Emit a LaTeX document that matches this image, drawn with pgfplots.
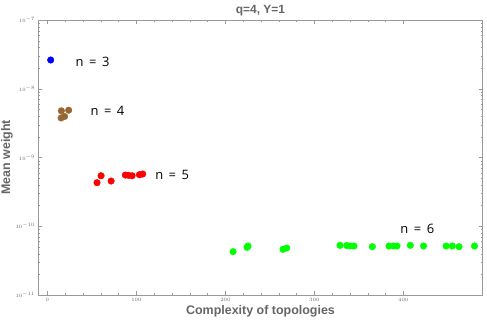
\documentclass[border=0pt]{standalone}
\usepackage{pgfplots}
\pgfplotsset{compat=1.18}
\usepackage{fontspec}
\setmainfont{Liberation Sans}
\newfontfamily\lblfont{Open Sans}
\definecolor{axgray}{HTML}{999999}
\definecolor{txtgray}{HTML}{666666}
\definecolor{mbrown}{rgb}{0.6,0.4,0.2}
\begin{document}
\begin{tikzpicture}
\begin{axis}[
  scale only axis,
  width=444bp, height=275bp,
  anchor=south west, at={(0,0)},
  xmin=-10, xmax=489,
  ymode=log, ymin=1e-11, ymax=1e-7,
  axis line style={axgray},
  tick style={axgray},
  major tick length=4bp, minor tick length=2bp,
  tick align=inside,
  xtick={0,100,200,300,400},
  minor x tick num=4,
  ytick={1e-11,1e-10,1e-9,1e-8,1e-7},
  tick label style={font=\fontsize{5.5}{6.5}\selectfont, text=txtgray},
  title={\bfseries q=4, Y=1},
  title style={font=\fontsize{12}{14}\selectfont, text=txtgray, yshift=-5bp},
  xlabel={\bfseries Complexity of topologies},
  ylabel={\bfseries Mean weight},
  label style={font=\fontsize{12.5}{14}\selectfont, text=txtgray},
  xlabel style={yshift=3bp},
  ylabel style={yshift=-4bp},
  clip=false,
]
\addplot[only marks, mark=*, mark size=3.3bp, color=blue] coordinates {(3.7,2.62e-8)};
\addplot[only marks, mark=*, mark size=3.3bp, color=mbrown] coordinates {
(15.7,4.77e-9) (23.9,4.87e-9) (15.4,3.76e-9) (19.3,3.95e-9)};
\addplot[only marks, mark=*, mark size=3.3bp, color=red] coordinates {
(55.8,4.30e-10) (60.3,5.43e-10) (71.6,4.55e-10) (87.6,5.56e-10)
(91.3,5.50e-10) (95.2,5.43e-10) (103.4,5.62e-10) (107.1,5.75e-10)};
\addplot[only marks, mark=*, mark size=3.3bp, color=green] coordinates {
(208.7,4.27e-11) (224.4,4.94e-11) (225.5,5.16e-11) (264.8,4.62e-11)
(268.9,4.83e-11) (328.9,5.28e-11) (336.5,5.25e-11) (340.4,5.16e-11)
(344.6,5.16e-11) (365.2,5.05e-11) (383.9,5.16e-11) (388.8,5.16e-11)
(392.9,5.16e-11) (407.9,5.28e-11) (422.7,5.16e-11) (448.1,5.16e-11)
(455.1,5.16e-11) (462.6,5.05e-11) (480.0,5.16e-11)};
\node[anchor=west, inner sep=0pt, font=\lblfont\fontsize{13}{15}\selectfont] at (axis cs:31.5,2.45e-8) {n\,\ =\ \,3};
\node[anchor=west, inner sep=0pt, font=\lblfont\fontsize{13}{15}\selectfont] at (axis cs:48.3,4.75e-9) {n\,\ =\ \,4};
\node[anchor=west, inner sep=0pt, font=\lblfont\fontsize{13}{15}\selectfont] at (axis cs:121,5.56e-10) {n\,\ =\ \,5};
\node[anchor=west, inner sep=0pt, font=\lblfont\fontsize{13}{15}\selectfont] at (axis cs:396.6,9.1e-11) {n\,\ =\ \,6};
\end{axis}
\pgfresetboundingbox
\path[use as bounding box] (-38.5bp,-32bp) rectangle (448.5bp,295bp);
\end{tikzpicture}
\end{document}
